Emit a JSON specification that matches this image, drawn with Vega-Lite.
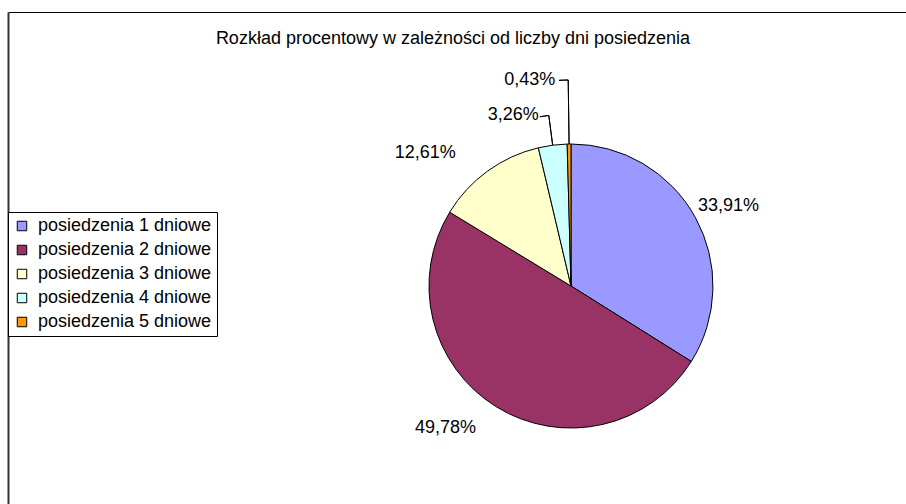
{
  "$schema": "https://vega.github.io/schema/vega-lite/v6.json",
  "width": 1126,
  "height": 548,
  "autosize": {"type": "none"},
  "padding": {"left": 8, "top": 12, "right": -228, "bottom": -56},
  "background": "white",
  "config": {
    "view": {"stroke": null},
    "font": "Liberation Sans"
  },
  "title": {
    "text": "Rozkład procentowy w zależności od liczby dni posiedzenia",
    "fontSize": 18,
    "fontWeight": "normal",
    "color": "black",
    "font": "Liberation Sans",
    "anchor": "middle",
    "frame": "group",
    "offset": 0,
    "dx": -118,
    "dy": 36
  },
  "data": {
    "values": [
      {"category": "posiedzenia 1 dniowe", "value": 33.91, "label": "33,91%"},
      {"category": "posiedzenia 2 dniowe", "value": 49.78, "label": "49,78%"},
      {"category": "posiedzenia 3 dniowe", "value": 12.61, "label": "12,61%"},
      {"category": "posiedzenia 4 dniowe", "value": 3.26, "label": "3,26%"},
      {"category": "posiedzenia 5 dniowe", "value": 0.43, "label": "0,43%"}
    ]
  },
  "transform": [
    {"stack": "value", "groupby": [], "sort": [{"field": "category", "order": "ascending"}], "as": ["v0", "v1"]},
    {"calculate": "(datum.v0 + datum.v1) / 2", "as": "mid"}
  ],
  "layer": [
    {
      "mark": {"type": "point", "opacity": 0},
      "encoding": {
        "x": {"field": "value", "type": "quantitative", "axis": {"orient": "top", "domainColor": "black", "domainWidth": 1, "ticks": false, "labels": false, "grid": false, "title": null}},
        "y": {"field": "value", "type": "quantitative", "axis": {"orient": "left", "domainColor": "#333333", "domainWidth": 2, "ticks": false, "labels": false, "grid": false, "title": null}}
      }
    },
    {
      "mark": {"type": "arc", "radius": 142, "stroke": "black", "strokeWidth": 1},
      "encoding": {
        "theta": {"field": "v0", "type": "quantitative", "stack": null, "scale": {"domain": [0, 99.99]}},
        "theta2": {"field": "v1"},
        "color": {
          "field": "category",
          "type": "nominal",
          "scale": {
            "domain": ["posiedzenia 1 dniowe", "posiedzenia 2 dniowe", "posiedzenia 3 dniowe", "posiedzenia 4 dniowe", "posiedzenia 5 dniowe"],
            "range": ["#9999FF", "#993366", "#FFFFCC", "#CCFFFF", "#FF9900"]
          },
          "legend": {
            "orient": "none",
            "legendX": 0,
            "legendY": 200,
            "title": null,
            "strokeColor": "black",
            "fillColor": "white",
            "padding": 5,
            "symbolType": "square",
            "symbolSize": 90,
            "symbolStrokeColor": "black",
            "symbolStrokeWidth": 1,
            "labelFontSize": 18,
            "labelColor": "black",
            "labelFont": "Liberation Sans",
            "rowPadding": 6,
            "labelOffset": 7,
            "labelLimit": 400
          }
        }
      }
    },
    {
      "transform": [{"filter": "datum.category == 'posiedzenia 4 dniowe'"}],
      "mark": {"type": "arc", "radius": 172, "radius2": 142, "stroke": "black", "strokeWidth": 1, "fillOpacity": 0},
      "encoding": {
        "theta": {"field": "mid", "type": "quantitative", "stack": null},
        "theta2": {"field": "mid"}
      }
    },
    {
      "transform": [{"filter": "datum.category == 'posiedzenia 4 dniowe'"}],
      "mark": {"type": "arc", "radius": 172, "radius2": 172, "thetaOffset": -0.052, "stroke": "black", "strokeWidth": 1, "fillOpacity": 0},
      "encoding": {
        "theta": {"field": "mid", "type": "quantitative", "stack": null},
        "theta2": {"field": "mid"}
      }
    },
    {
      "transform": [{"filter": "datum.category == 'posiedzenia 5 dniowe'"}],
      "mark": {"type": "arc", "radius": 206, "radius2": 142, "stroke": "black", "strokeWidth": 1, "fillOpacity": 0},
      "encoding": {
        "theta": {"field": "mid", "type": "quantitative", "stack": null},
        "theta2": {"field": "mid"}
      }
    },
    {
      "transform": [{"filter": "datum.category == 'posiedzenia 5 dniowe'"}],
      "mark": {"type": "arc", "radius": 206, "radius2": 206, "thetaOffset": -0.045, "stroke": "black", "strokeWidth": 1, "fillOpacity": 0},
      "encoding": {
        "theta": {"field": "mid", "type": "quantitative", "stack": null},
        "theta2": {"field": "mid"}
      }
    },
    {
      "transform": [{"filter": "datum.category == 'posiedzenia 1 dniowe'"}],
      "mark": {"type": "text", "radius": 180, "fontSize": 18, "dy": 7, "color": "black", "font": "Liberation Sans"},
      "encoding": {
        "theta": {"field": "mid", "type": "quantitative", "stack": null},
        "text": {"field": "label"}
      }
    },
    {
      "transform": [{"filter": "datum.category == 'posiedzenia 2 dniowe'"}],
      "mark": {"type": "text", "radius": 180, "fontSize": 18, "dx": -31, "dy": -11, "color": "black", "font": "Liberation Sans"},
      "encoding": {
        "theta": {"field": "mid", "type": "quantitative", "stack": null},
        "text": {"field": "label"}
      }
    },
    {
      "transform": [{"filter": "datum.category == 'posiedzenia 3 dniowe'"}],
      "mark": {"type": "text", "radius": 180, "fontSize": 18, "dx": -40, "dy": 13, "color": "black", "font": "Liberation Sans"},
      "encoding": {
        "theta": {"field": "mid", "type": "quantitative", "stack": null},
        "text": {"field": "label"}
      }
    },
    {
      "transform": [{"filter": "datum.category == 'posiedzenia 4 dniowe'"}],
      "mark": {"type": "text", "radius": 172, "fontSize": 18, "align": "right", "dx": -10, "color": "black", "font": "Liberation Sans"},
      "encoding": {
        "theta": {"field": "mid", "type": "quantitative", "stack": null},
        "text": {"field": "label"}
      }
    },
    {
      "transform": [{"filter": "datum.category == 'posiedzenia 5 dniowe'"}],
      "mark": {"type": "text", "radius": 206, "fontSize": 18, "align": "right", "dx": -13, "color": "black", "font": "Liberation Sans"},
      "encoding": {
        "theta": {"field": "mid", "type": "quantitative", "stack": null},
        "text": {"field": "label"}
      }
    }
  ]
}
